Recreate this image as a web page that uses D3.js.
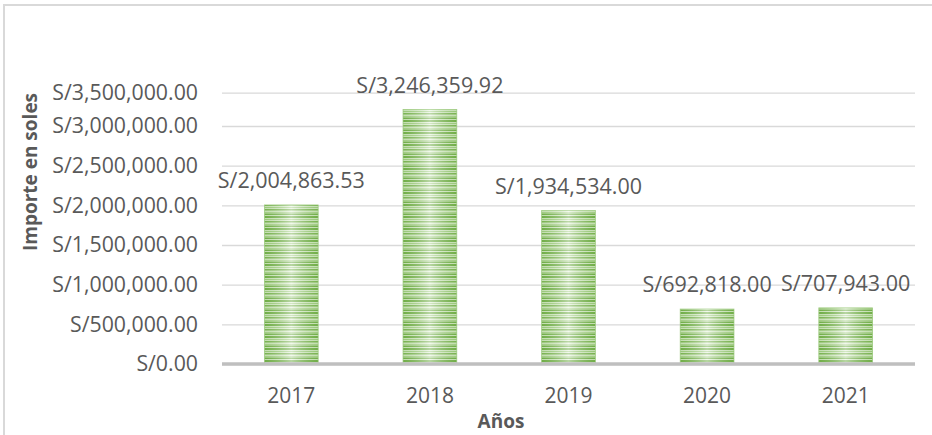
<!DOCTYPE html>
<html>
<head>
<meta charset="utf-8">
<script src="https://cdn.jsdelivr.net/npm/d3@7"></script>
<style>
  body { margin: 0; background: #fff; }
  text { font-family: "Open Sans", sans-serif; fill: #595959; }
</style>
</head>
<body>
<script>
let years = ["2017", "2018", "2019", "2020", "2021"];
let importes = [2004863.53, 3246359.92, 1934534.00, 692818.00, 707943.00];
let yTicks = [0, 500000, 1000000, 1500000, 2000000, 2500000, 3000000, 3500000];

let width = 932,
    height = 435,
    left = 222,
    right = 915,
    bottom = 364;

let svg = d3.select("body").append("svg")
    .attr("width", width).attr("height", height);

// marco del grafico (solo se ve arriba e izquierda)
svg.append("path")
    .attr("d", "M4," + height + "V5H" + width)
    .attr("fill", "none").attr("stroke", "#d9d9d9").attr("stroke-width", 2);

let defs = svg.append("defs");
let pat = defs.append("pattern").attr("id", "rayas")
    .attr("patternUnits", "userSpaceOnUse").attr("width", 8).attr("height", 12);
pat.append("rect").attr("width", 8).attr("height", 12).attr("fill", "#e6f2dd");
[[0, 2, "#70ad47"], [3, 1, "#a9d18e"], [5, 1.5, "#7cb354"], [8, 1, "#b5d89b"], [9.5, 1.5, "#70ad47"]]
    .forEach((s) => pat.append("rect").attr("y", s[0]).attr("width", 8).attr("height", s[1]).attr("fill", s[2]));

let grad = defs.append("linearGradient").attr("id", "brillo");
grad.append("stop").attr("offset", "0%").attr("stop-color", "#70ad47").attr("stop-opacity", 0.3);
grad.append("stop").attr("offset", "50%").attr("stop-color", "#ffffff").attr("stop-opacity", 0.5);
grad.append("stop").attr("offset", "100%").attr("stop-color", "#70ad47").attr("stop-opacity", 0.3);

let xScale = d3.scaleBand().domain(years).range([left, right]);
// el eje de la imagen esta comprimido arriba (3M -> 3.5M)
let yScale = d3.scaleLinear()
    .domain([0, 3000000, 3500000])
    .range([bottom, 126, 92.7]);

let fmt = (d) => "S/" + d3.format(",.2f")(d);

// lineas de division
let grid = svg.append("g").attr("transform", "translate(" + left + ",0)")
    .call(d3.axisLeft(yScale).tickValues(yTicks).tickSize(-(right - left)).tickFormat(""));
grid.select(".domain").remove();
grid.selectAll("line").attr("stroke", "#d9d9d9").attr("stroke-width", 1.3);

let yAxis = svg.append("g").attr("transform", "translate(" + left + ",0)")
    .call(d3.axisLeft(yScale).tickValues(yTicks).tickSize(0).tickPadding(24).tickFormat(fmt));
yAxis.select(".domain").remove();
yAxis.selectAll("text").style("font-size", "21.3px").attr("fill", "#595959");

let bw = xScale.bandwidth() * 0.388;
let bars = svg.append("g").selectAll("g").data(importes).enter().append("g");
bars.append("rect")
    .attr("x", (d, i) => xScale(years[i]) + (xScale.bandwidth() - bw) / 2)
    .attr("y", (d) => yScale(d))
    .attr("width", bw)
    .attr("height", (d) => yScale(0) - yScale(d))
    .attr("fill", "url(#rayas)")
    .attr("stroke", "#a9d18e").attr("stroke-width", 0.8);
bars.append("rect")
    .attr("x", (d, i) => xScale(years[i]) + (xScale.bandwidth() - bw) / 2)
    .attr("y", (d) => yScale(d))
    .attr("width", bw)
    .attr("height", (d) => yScale(0) - yScale(d))
    .attr("fill", "url(#brillo)");

let xAxis = svg.append("g").attr("transform", "translate(0," + bottom + ")")
    .call(d3.axisBottom(xScale).tickSize(0).tickPadding(24));
xAxis.select(".domain").attr("stroke", "#bfbfbf").attr("stroke-width", 3.5)
    .attr("d", "M" + left + ",0H" + right);
xAxis.selectAll("text").style("font-size", "21px").attr("fill", "#595959");

// etiquetas de datos
svg.append("g").selectAll("text").data(importes).enter().append("text")
    .attr("x", (d, i) => xScale(years[i]) + xScale.bandwidth() / 2)
    .attr("y", (d) => yScale(d) - 17)
    .attr("text-anchor", "middle")
    .style("font-size", "21.5px")
    .text(fmt);

svg.append("text")
    .attr("transform", "translate(37,172) rotate(-90)")
    .attr("text-anchor", "middle")
    .style("font-size", "19px").style("font-weight", "bold")
    .text("Importe en soles");

svg.append("text")
    .attr("x", 501).attr("y", 428)
    .attr("text-anchor", "middle")
    .style("font-size", "19px").style("font-weight", "bold")
    .text("Años");
</script>
</body>
</html>
